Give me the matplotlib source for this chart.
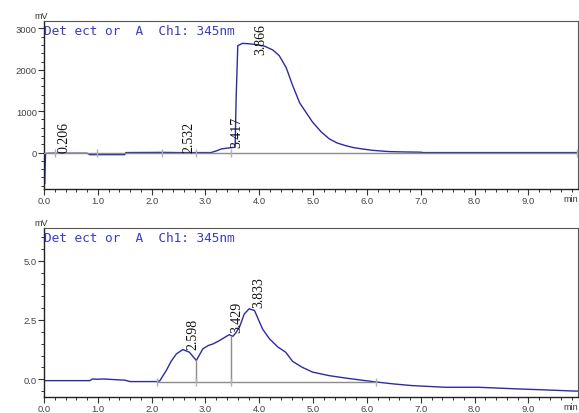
import matplotlib
matplotlib.use("Agg")
import matplotlib.pyplot as plt
from matplotlib.ticker import MultipleLocator, FormatStrFormatter

# ---- Data ----
t1 = [0.0, 0.005, 0.01, 0.03, 0.1, 0.8, 0.85, 1.5, 1.52, 2.2, 2.5, 3.1, 3.2, 3.3, 3.45, 3.55,
      3.57, 3.6, 3.69, 3.8, 3.95, 4.1, 4.25, 4.37, 4.5, 4.62, 4.75, 4.99, 5.15, 5.3, 5.45,
      5.6, 5.75, 5.91, 6.1, 6.41, 6.7, 6.99, 7.05, 8.0, 9.92]
y1 = [0, -300, -760, -20, -15, -15, -50, -50, 0, 5, 0, 0, 40, 90, 115, 130,
      1340, 2585, 2640, 2630, 2610, 2570, 2480, 2343, 2050, 1618, 1200, 734, 500, 331, 230,
      169, 120, 89, 55, 24, 15, 10, 0, 0, 0]

t2 = [0.0, 0.5, 0.85, 0.9, 1.0, 1.1, 1.5, 1.6, 2.1, 2.15, 2.27, 2.36, 2.46, 2.58, 2.7, 2.83,
      2.95, 3.05, 3.14, 3.26, 3.44, 3.51, 3.56, 3.63, 3.72, 3.81, 3.91, 4.06, 4.19, 4.35,
      4.49, 4.62, 4.8, 4.99, 5.3, 5.6, 5.9, 6.22, 6.5, 6.84, 7.2, 7.46, 8.07, 8.5, 8.81, 9.3, 9.86, 9.92]
y2 = [-0.06, -0.06, -0.06, 0.01, 0.0, 0.01, -0.04, -0.1, -0.1, -0.07, 0.36, 0.75, 1.07, 1.25, 1.14, 0.79,
      1.28, 1.42, 1.49, 1.63, 1.88, 1.81, 1.95, 2.19, 2.75, 2.97, 2.9, 2.12, 1.70, 1.35,
      1.14, 0.75, 0.5, 0.30, 0.15, 0.05, -0.04, -0.13, -0.2, -0.27, -0.31, -0.34, -0.34, -0.38, -0.41, -0.45, -0.5, -0.5]

peaks1 = [0.206, 2.532, 3.417, 3.866]
peak1_labels = ["0.206", "2.532", "3.417", "3.866"]
peak1_label_y = [10, 10, 135, 2380]
marks1 = [0.2, 0.98, 2.2, 2.83, 3.48, 9.9]

peaks2 = [2.598, 3.429, 3.833]
peak2_labels = ["2.598", "3.429", "3.833"]
peak2_label_y = [1.28, 2.0, 3.04]
drop2_t = [2.83, 3.48]
drop2_y = [0.79, 1.81]
base2_t = [2.09, 6.16]
base2_y = [-0.13, -0.13]
marks2 = [2.09, 2.83, 3.48, 6.16]

line_color = "#2b2ba8"
grey = "#8c8c8c"
tick_color = "#444444"

fig = plt.figure(figsize=(5.79, 4.14), dpi=100)
ax1 = fig.add_axes([44/579, 1-190/414, 534/579, 168/414])
ax2 = fig.add_axes([44/579, 1-398/414, 534/579, 169/414])

def style(ax, ymaj, ymin, yfmt):
    ax.set_xlim(0, 9.92)
    ax.xaxis.set_major_locator(MultipleLocator(1.0))
    ax.xaxis.set_minor_locator(MultipleLocator(0.2))
    ax.xaxis.set_major_formatter(FormatStrFormatter("%.1f"))
    ax.yaxis.set_major_locator(MultipleLocator(ymaj))
    ax.yaxis.set_minor_locator(MultipleLocator(ymin))
    ax.yaxis.set_major_formatter(FormatStrFormatter(yfmt))
    ax.tick_params(which="major", length=4, width=0.8, color="#333333",
                   labelsize=6.8, labelcolor=tick_color, pad=1.0)
    ax.tick_params(which="minor", length=2.5, width=0.7, color="#333333")
    for s in ["top", "right"]:
        ax.spines[s].set_color("#555555")
        ax.spines[s].set_linewidth(0.8)
    for s in ["left", "bottom"]:
        ax.spines[s].set_color("#222222")
        ax.spines[s].set_linewidth(1.0)
    for lab in ax.get_xticklabels() + ax.get_yticklabels():
        lab.set_family("Liberation Sans")
    ax.text(-0.005, 1.005, "mV", transform=ax.transAxes, fontsize=6.5, color="#333333",
            ha="center", va="bottom", family="Liberation Sans")
    ax.text(1.0, -0.055, "min", transform=ax.transAxes, fontsize=6.5, color="#333333",
            ha="right", va="center", family="Liberation Sans")
    ax.text(0.0, 0.945, "Det ect or  A  Ch1: 345nm", transform=ax.transAxes,
            fontsize=9.2, color="#3a3ad0", ha="left", va="center", family="DejaVu Sans Mono")

# ---- Top panel ----
ax1.plot(t1, y1, color=line_color, lw=1.0, zorder=2)
ax1.axhline(0, color=grey, lw=1.0, zorder=3)
ax1.plot(marks1, [0]*len(marks1), linestyle="none", marker="|", markersize=6,
         color="#b0b0b0", zorder=4)
ax1.set_ylim(-880, 3180)
style(ax1, 1000, 200, "%d")
for p, lab, yy in zip(peaks1, peak1_labels, peak1_label_y):
    ax1.text(p + 0.04, yy, lab, rotation=90, ha="left", va="bottom", fontsize=10,
             family="Liberation Serif", color="#111111", zorder=5)

# ---- Bottom panel ----
ax2.plot(t2, y2, color=line_color, lw=1.0, zorder=2)
ax2.plot(base2_t, base2_y, color=grey, lw=1.0, zorder=3)
for dt, dy in zip(drop2_t, drop2_y):
    ax2.plot([dt, dt], [base2_y[0], dy], color=grey, lw=1.0, zorder=3)
ax2.plot(marks2, [base2_y[0]]*len(marks2), linestyle="none", marker="|", markersize=6,
         color="#b0b0b0", zorder=4)
ax2.set_ylim(-0.75, 6.38)
style(ax2, 2.5, 0.5, "%.1f")
for p, lab, yy in zip(peaks2, peak2_labels, peak2_label_y):
    ax2.text(p + 0.04, yy, lab, rotation=90, ha="left", va="bottom", fontsize=10,
             family="Liberation Serif", color="#111111", zorder=5)

fig.savefig("out.png", dpi=100)
